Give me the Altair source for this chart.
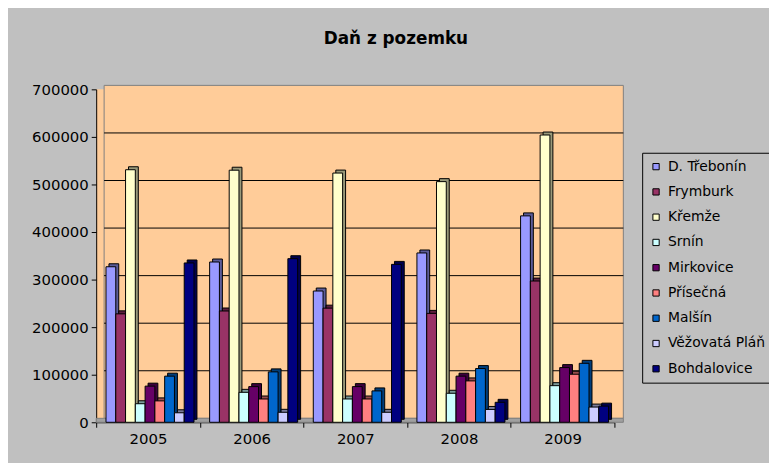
import altair as alt
import pandas as pd

years = ["2005", "2006", "2007", "2008", "2009"]
series = ["D. Třebonín", "Frymburk", "Křemže", "Srnín", "Mirkovice",
          "Přísečná", "Malšín", "Věžovatá Pláň", "Bohdalovice"]
values = {
    "D. Třebonín":   [327000, 337000, 276000, 356000, 434000],
    "Frymburk":      [228000, 234000, 240000, 229000, 297000],
    "Křemže":        [531000, 530000, 524000, 506000, 604000],
    "Srnín":         [39000, 63000, 49000, 61000, 77000],
    "Mirkovice":     [76000, 75000, 75000, 97000, 115000],
    "Přísečná":      [45000, 49000, 49000, 87000, 101000],
    "Malšín":        [97000, 106000, 66000, 113000, 124000],
    "Věžovatá Pláň": [20000, 21000, 21000, 27000, 32000],
    "Bohdalovice":   [335000, 344000, 332000, 42000, 34000],
}
colors = ["#9999FF", "#993366", "#FFFFCC", "#CCFFFF", "#660066",
          "#FF8080", "#0066CC", "#CCCCFF", "#000080"]
side_colors = ["#5C5C99", "#5C1F3D", "#99997A", "#7A9999", "#3D003D",
               "#994D4D", "#003D7A", "#7A7A99", "#00004D"]
y_ticks = [0, 100000, 200000, 300000, 400000, 500000, 600000, 700000]
grid_lines = [100000, 200000, 300000, 400000, 500000, 600000]

rows = []
for s in series:
    for y, v in zip(years, values[s]):
        rows.append({"Rok": y, "Obec": s, "Hodnota": v})
df = pd.DataFrame(rows)
grid_df = pd.DataFrame({"Hodnota": grid_lines})
one_df = pd.DataFrame({"k": [0]})

FONT = "DejaVu Sans"
W, H = 523, 336
STEP = W / len(years)
DEPTH = 8

x_enc = alt.X("Rok:N", sort=years,
              scale=alt.Scale(paddingInner=0, paddingOuter=0),
              axis=alt.Axis(title=None, labelAngle=0, tickBand="extent",
                            domainColor="black", tickColor="black", tickSize=5,
                            labelFontSize=15, labelColor="black", labelFont=FONT,
                            labelPadding=4, grid=False))
y_scale = alt.Scale(domain=[0, 700000], nice=False)
y_enc = alt.Y("Hodnota:Q", scale=y_scale,
              axis=alt.Axis(title=None, values=y_ticks, format="d",
                            domainColor="black", tickColor="black", tickSize=5,
                            labelFontSize=15, labelColor="black", labelFont=FONT,
                            labelPadding=3, grid=False))

# back wall of the 3D plot area
wall = alt.Chart(one_df).mark_rect(fill="#FFCC99", stroke="#808080",
                                   strokeWidth=1).encode(
    x=alt.value(DEPTH), x2=alt.value(W + DEPTH + 1),
    y=alt.value(-4), y2=alt.value(H - 4),
)
# floor
floor = alt.Chart(one_df).mark_rect(fill="#A0A0A0", stroke="#808080",
                                    strokeWidth=1).encode(
    x=alt.value(0), x2=alt.value(W + DEPTH + 1),
    y=alt.value(H - 4), y2=alt.value(H),
)
# gridlines on the back wall
grid = alt.Chart(grid_df).mark_rule(color="black", strokeWidth=1,
                                    yOffset=-4).encode(
    y=alt.Y("Hodnota:Q", scale=y_scale),
    x=alt.value(DEPTH), x2=alt.value(W + DEPTH + 1),
)

side = alt.Chart(df).mark_bar(yOffset=-3, stroke="black",
                              strokeWidth=1).encode(
    x=x_enc,
    xOffset=alt.XOffset("Obec:N", sort=series,
                        scale=alt.Scale(paddingInner=0, paddingOuter=0.8,
                                        range=[5, STEP + 5])),
    y=y_enc,
    color=alt.Color("Obec:N", sort=series,
                    scale=alt.Scale(domain=series, range=side_colors),
                    legend=None),
)

front = alt.Chart(df).mark_bar(stroke="black", strokeWidth=1).encode(
    x=x_enc,
    xOffset=alt.XOffset("Obec:N", sort=series,
                        scale=alt.Scale(paddingInner=0, paddingOuter=0.8,
                                        range=[2, STEP + 2])),
    y=y_enc,
    color=alt.Color("Obec:N", sort=series,
                    scale=alt.Scale(domain=series, range=colors),
                    legend=alt.Legend(title=None, orient="none",
                                      legendX=551, legendY=64,
                                      symbolType="square", symbolSize=40,
                                      symbolStrokeColor="black",
                                      symbolStrokeWidth=1,
                                      labelFontSize=14, labelFont=FONT,
                                      labelColor="black", labelOffset=5,
                                      rowPadding=11.5, padding=7,
                                      strokeColor="black",
                                      fillColor="#C0C0C0")),
)

chart = alt.layer(wall, floor, grid, side, front).resolve_scale(
    color="independent", xOffset="independent"
).properties(
    width=W, height=H,
    autosize=alt.AutoSizeParams(type="none"),
    padding={"left": 89, "top": 80, "right": 156, "bottom": 39},
    background="#C0C0C0",
    title=alt.TitleParams("Daň z pozemku", font=FONT, fontSize=17,
                          fontWeight="bold", color="black", anchor="middle",
                          dx=41, offset=35),
).configure_view(fill="#FFCC99", stroke=None)

chart.save("out.html", embed_options={"renderer": "svg", "actions": False})
